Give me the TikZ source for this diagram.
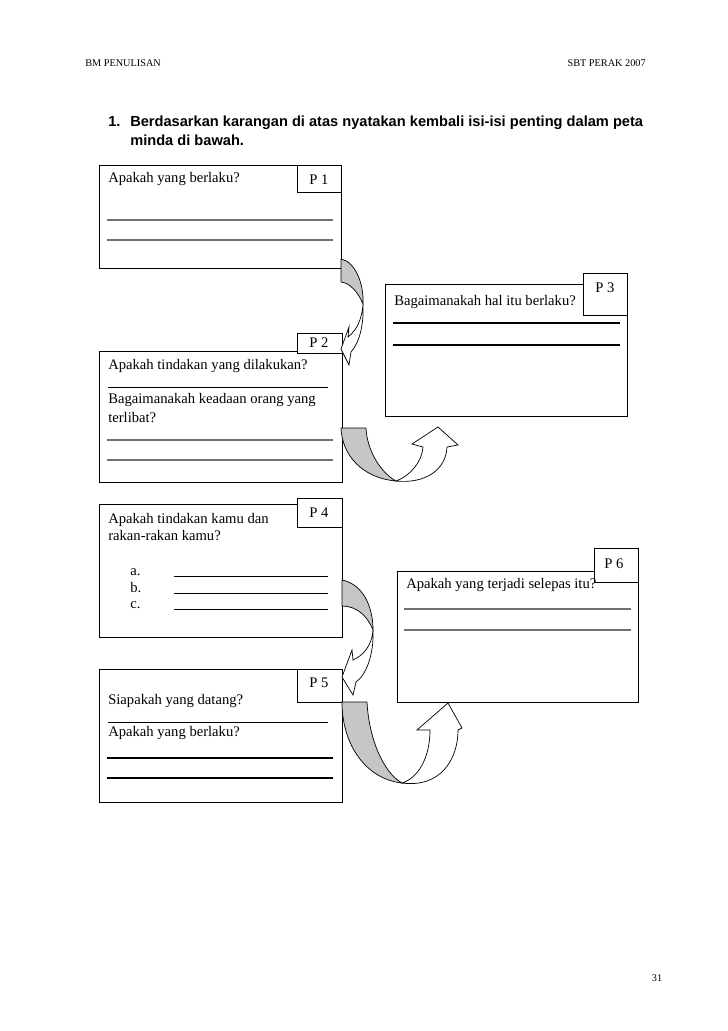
\documentclass[tikz,border=0pt]{standalone}
\usepackage{fontspec}
\setmainfont{Liberation Serif}
\newfontfamily\headfont{Liberation Sans}
\usetikzlibrary{positioning}
\newcommand{\pxu}{0.025cm}
\definecolor{bandgray}{RGB}{198,198,198}
\definecolor{rulegray}{RGB}{112,112,112}
\tikzset{
  box/.style 2 args={rectangle, draw=black, line width=0.7pt,
    minimum width=#1*\pxu, minimum height=#2*\pxu,
    anchor=north west, inner sep=0pt},
  tabbox/.style 2 args={rectangle, draw=black, fill=white, line width=0.7pt,
    minimum width=#1*\pxu, minimum height=#2*\pxu,
    anchor=north west, inner sep=0pt},
  txt/.style={anchor=base west, inner sep=0pt, font=\fontsize{10.4}{12.5}\selectfont},
  plabel/.style={anchor=base, inner sep=0pt, font=\fontsize{10.4}{12.5}\selectfont},
  head/.style={anchor=base west, inner sep=0pt, font=\headfont\bfseries\fontsize{10.4}{12.5}\selectfont},
  hdr/.style={anchor=base west, inner sep=0pt, font=\fontsize{7.3}{9}\selectfont},
  greyrule/.style={draw=rulegray, line width=0.8pt},
  darkrule/.style={draw=black, line width=1.1pt},
  blankline/.style={draw=black, line width=0.45pt},
  backband/.style={fill=bandgray, draw=black, line width=0.5pt},
  frontband/.style={fill=white, draw=black, line width=0.5pt}
}

\begin{document}
\begin{tikzpicture}[x=0.025cm, y=-0.025cm]
  \useasboundingbox (0,0) rectangle (728,1031);

  \node[hdr] (hleft) at (85,67) {BM PENULISAN};
  \node[hdr, anchor=base east] (hright) at (646,67) {SBT PERAK 2007};
  \node[hdr, anchor=base] (pgno) at (657,981) {31};

  \node[head] (qnum) at (108,127) {1.};
  \node[head] (qline1) at (130,127) {Berdasarkan karangan di atas nyatakan kembali isi-isi penting dalam peta};
  \node[head] (qline2) at (130,146) {minda di bawah.};

  % P1
  \node[box={242}{103}] (b1) at (99,165) {};
  \node[tabbox={44}{27}] (t1) at (297,165) {};
  \node[plabel] (l1) at (319,185) {P 1};
  \node[txt] (b1q) at (108,182) {Apakah yang berlaku?};
  \draw[greyrule] (107,220) -- (333,220);
  \draw[greyrule] (107,240) -- (333,240);

  % P2
  \node[box={243}{131}] (b2) at (99,351) {};
  \node[tabbox={45}{20}] (t2) at (297,333) {};
  \node[plabel] (l2) at (319,347) {P 2};
  \node[txt] (b2q1) at (108,369) {Apakah tindakan yang dilakukan?};
  \draw[blankline] (108,387) -- (328,387);
  \node[txt] (b2q2) at (108,403) {Bagaimanakah keadaan orang yang};
  \node[txt] (b2q3) at (108,422) {terlibat?};
  \draw[greyrule] (107,440) -- (333,440);
  \draw[greyrule] (107,460) -- (333,460);

  % P3
  \node[box={242}{132}] (b3) at (385,284) {};
  \node[tabbox={44}{42}] (t3) at (583,273) {};
  \node[plabel] (l3) at (605,292) {P 3};
  \node[txt] (b3q) at (394,305) {Bagaimanakah hal itu berlaku?};
  \draw[darkrule] (393,323) -- (620,323);
  \draw[darkrule] (393,345) -- (620,345);

  % P4
  \node[box={243}{133}] (b4) at (99,504) {};
  \node[tabbox={45}{29}] (t4) at (297,498) {};
  \node[plabel] (l4) at (319,517) {P 4};
  \node[txt] (b4q1) at (108,523) {Apakah tindakan kamu dan};
  \node[txt] (b4q2) at (108,540) {rakan-rakan kamu?};
  \node[txt] (b4a) at (130,575) {a.};
  \node[txt] (b4b) at (130,592) {b.};
  \node[txt] (b4c) at (130,608) {c.};
  \draw[blankline] (174,576) -- (328,576);
  \draw[blankline] (174,593) -- (328,593);
  \draw[blankline] (174,609) -- (328,609);

  % P5
  \node[box={243}{133}] (b5) at (99,669) {};
  \node[tabbox={45}{33}] (t5) at (297,669) {};
  \node[plabel] (l5) at (319,687) {P 5};
  \node[txt] (b5q1) at (108,704) {Siapakah yang datang?};
  \draw[blankline] (108,722) -- (328,722);
  \node[txt] (b5q2) at (108,736) {Apakah yang berlaku?};
  \draw[blankline, line width=0.8pt] (107,758) -- (333,758);
  \draw[blankline, line width=0.8pt] (107,778) -- (333,778);

  % P6
  \node[box={241}{131}] (b6) at (397,571) {};
  \node[tabbox={44}{34}] (t6) at (594,548) {};
  \node[plabel] (l6) at (614,568) {P 6};
  \node[txt] (b6q) at (406,588) {Apakah yang terjadi selepas itu?};
  \draw[greyrule] (404,609) -- (631,609);
  \draw[greyrule] (404,630) -- (631,630);

  % P1 -> P2
  \draw[backband] (341,259) .. controls (356,262) and (364,285) .. (363,304)
    .. controls (358,292) and (350,283) .. (341,282) -- cycle;
  \draw[frontband] (363,304) .. controls (362,320) and (356,331) .. (348,337)
    -- (349,327) -- (341,349) -- (349,365) -- (351,352)
    .. controls (359,343) and (364,326) .. (363,304) -- cycle;

  % P2 -> P3
  \draw[backband] (341,428) -- (366,428) .. controls (367,450) and (380,472) .. (396,481)
    .. controls (362,478) and (342,455) .. (341,428) -- cycle;
  \draw[frontband] (396,481) .. controls (425,484) and (446,470) .. (447,447)
    -- (458,445) -- (438,427) -- (412,444) -- (423,447)
    .. controls (422,462) and (410,476) .. (396,481) -- cycle;

  % P4 -> P5
  \draw[backband] (342,580) .. controls (362,584) and (373,605) .. (373,630)
    .. controls (367,615) and (356,606) .. (342,606) -- cycle;
  \draw[frontband] (373,630) .. controls (372,645) and (364,655) .. (353,660)
    -- (352,650) -- (342,677) -- (353,695) -- (356,682)
    .. controls (366,675) and (374,655) .. (373,630) -- cycle;

  % P5 -> P6
  \draw[backband] (342,702) -- (367,702) .. controls (369,740) and (384,773) .. (402,783)
    .. controls (366,779) and (342,745) .. (342,702) -- cycle;
  \draw[frontband] (402,783) .. controls (440,788) and (458,760) .. (458,730)
    -- (462,728) -- (448,703) -- (417,730) -- (430,730)
    .. controls (430,758) and (418,778) .. (402,783) -- cycle;
\end{tikzpicture}
\end{document}
